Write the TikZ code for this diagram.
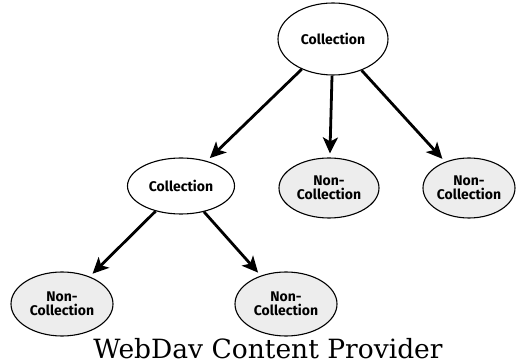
\documentclass[tikz,border=0pt]{standalone}
\usepackage{fontspec}
\setmainfont{DejaVu Serif}
\newfontfamily\nodefont{Fira Sans}
\usetikzlibrary{shapes.geometric,arrows.meta}
\begin{document}
\begin{tikzpicture}[x=1pt,y=1pt,
  coll/.style={ellipse,draw,line width=1.1pt,fill=white,inner sep=0pt,align=center,font=\nodefont\bfseries\fontsize{14}{14.5}\selectfont},
  noncoll/.style={coll,fill=black!7},
  arr/.style={line width=2.8pt,shorten >=4pt,-{Stealth[length=16pt,width=15pt,inset=4pt]}}]
\useasboundingbox (0,0) rectangle (517,364);
\node[coll,minimum width=110pt,minimum height=72pt] (top) at (333,325) {Collection};
\node[coll,minimum width=107pt,minimum height=56pt] (mid) at (181,178) {Collection};
\node[noncoll,minimum width=100pt,minimum height=60pt] (nc1) at (329,176) {Non-\\Collection};
\node[noncoll,minimum width=92pt,minimum height=60pt] (nc2) at (469,176) {Non-\\Collection};
\node[noncoll,minimum width=102pt,minimum height=64pt] (nc3) at (62,60) {Non-\\Collection};
\node[noncoll,minimum width=102pt,minimum height=64pt] (nc4) at (286,60) {Non-\\Collection};
\node[anchor=base,font=\fontsize{26.5}{28}\selectfont,inner sep=0pt] (cap) at (268,5) {WebDav Content Provider};
\draw[arr] (top) -- (mid);
\draw[arr] (top) -- (nc1);
\draw[arr] (top) -- (nc2);
\draw[arr] (mid) -- (nc3);
\draw[arr] (mid) -- (nc4);
\end{tikzpicture}
\end{document}
